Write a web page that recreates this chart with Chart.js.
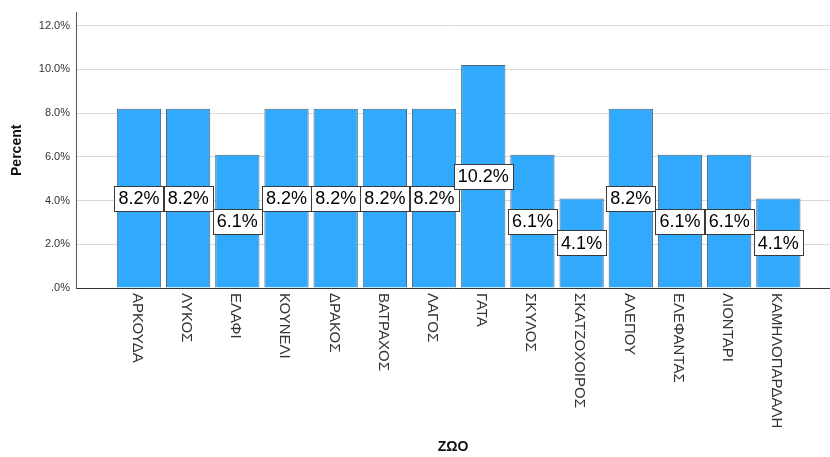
<!DOCTYPE html>
<html>
<head>
<meta charset="utf-8">
<script src="https://cdn.jsdelivr.net/npm/chart.js@4"></script>
<style>
  body { margin: 0; background: #fff; }
  #wrap { width: 830px; height: 457px; }
</style>
</head>
<body>
<div id="wrap"><canvas id="chart" width="830" height="457"></canvas></div>
<script>
const categories = ['ΑΡΚΟΥΔΑ', 'ΛΥΚΟΣ', 'ΕΛΑΦΙ', 'ΚΟΥΝΕΛΙ', 'ΔΡΑΚΟΣ', 'ΒΑΤΡΑΧΟΣ', 'ΛΑΓΟΣ',
  'ΓΑΤΑ', 'ΣΚΥΛΟΣ', 'ΣΚΑΤΖΟΧΟΙΡΟΣ', 'ΑΛΕΠΟΥ', 'ΕΛΕΦΑΝΤΑΣ', 'ΛΙΟΝΤΑΡΙ', 'ΚΑΜΗΛΟΠΑΡΔΑΛΗ'];
const percents = [8.2, 8.2, 6.1, 8.2, 8.2, 8.2, 8.2, 10.2, 6.1, 4.1, 8.2, 6.1, 6.1, 4.1];
const yTicks = [0, 2, 4, 6, 8, 10, 12];
const yTickLabels = ['.0%', '2.0%', '4.0%', '6.0%', '8.0%', '10.0%', '12.0%'];

// bars sit on a linear x scale so the axis can run past the first/last category
const points = percents.map((v, i) => ({ x: i, y: v }));

// value boxes in the middle of each bar
const valueBoxes = {
  id: 'valueBoxes',
  afterDatasetsDraw(chart) {
    const ctx = chart.ctx;
    const meta = chart.getDatasetMeta(0);
    ctx.save();
    ctx.font = '18px "Liberation Sans", Arial, sans-serif';
    ctx.textAlign = 'center';
    ctx.textBaseline = 'middle';
    meta.data.forEach((bar, i) => {
      const txt = percents[i].toFixed(1) + '%';
      const w = Math.round(ctx.measureText(txt).width + 8);
      const h = 25;
      const cx = bar.x;
      const cy = (bar.y + bar.base) / 2;
      const left = Math.round(cx - w / 2) + 0.5;
      const top = Math.round(cy - h / 2) + 0.5;
      ctx.fillStyle = '#fff';
      ctx.fillRect(left, top, w, h);
      ctx.strokeStyle = '#3a3a3a';
      ctx.lineWidth = 1;
      ctx.strokeRect(left, top, w, h);
      ctx.fillStyle = '#000';
      ctx.fillText(txt, cx, cy + 1);
    });
    ctx.restore();
  }
};

// category labels turned clockwise, reading top to bottom
const categoryLabels = {
  id: 'categoryLabels',
  afterDraw(chart) {
    const ctx = chart.ctx;
    const xScale = chart.scales.x;
    ctx.save();
    ctx.font = '15px "Liberation Sans", Arial, sans-serif';
    ctx.fillStyle = '#333';
    ctx.textAlign = 'left';
    ctx.textBaseline = 'middle';
    categories.forEach((name, i) => {
      const px = xScale.getPixelForValue(i);
      ctx.save();
      ctx.translate(px - 2, chart.chartArea.bottom + 5);
      ctx.rotate(Math.PI / 2);
      ctx.fillText(name, 0, 0);
      ctx.restore();
    });
    ctx.restore();
  }
};

new Chart(document.getElementById('chart'), {
  type: 'bar',
  data: {
    datasets: [{
      label: 'Percent',
      data: points,
      backgroundColor: '#31a9fd',
      borderColor: '#4d6677',
      borderWidth: 1,
      barPercentage: 0.9,
      categoryPercentage: 1.0
    }]
  },
  options: {
    responsive: false,
    animation: false,
    layout: { padding: { top: 12, right: 0, left: 0, bottom: 0 } },
    plugins: {
      legend: { display: false },
      tooltip: { enabled: false }
    },
    scales: {
      x: {
        type: 'linear',
        min: -1.28,
        max: 14.05,
        offset: false,
        grid: { display: false, offset: false },
        border: { color: '#333', width: 1 },
        ticks: { display: false },
        title: {
          display: true,
          text: 'ΖΩΟ',
          color: '#111',
          font: { family: '"Liberation Sans", Arial, sans-serif', size: 14, weight: 'bold' },
          padding: { top: 0, bottom: 1 }
        },
        afterFit(scale) { scale.height = 169; }
      },
      y: {
        min: 0,
        max: 12.6,
        grid: { color: '#d9d9d9', lineWidth: 1, drawTicks: false },
        border: { color: '#555', width: 1 },
        ticks: {
          stepSize: 2,
          includeBounds: false,
          padding: 6,
          color: '#333',
          font: { family: '"Liberation Sans", Arial, sans-serif', size: 11 },
          callback: (v) => {
            const k = yTicks.indexOf(v);
            return k >= 0 ? yTickLabels[k] : '';
          }
        },
        title: {
          display: true,
          text: 'Percent',
          color: '#111',
          font: { family: '"Liberation Sans", Arial, sans-serif', size: 14, weight: 'bold' },
          padding: { top: 9, bottom: 0 }
        },
        afterFit(scale) { scale.width = 76; }
      }
    }
  },
  plugins: [valueBoxes, categoryLabels]
});
</script>
</body>
</html>
